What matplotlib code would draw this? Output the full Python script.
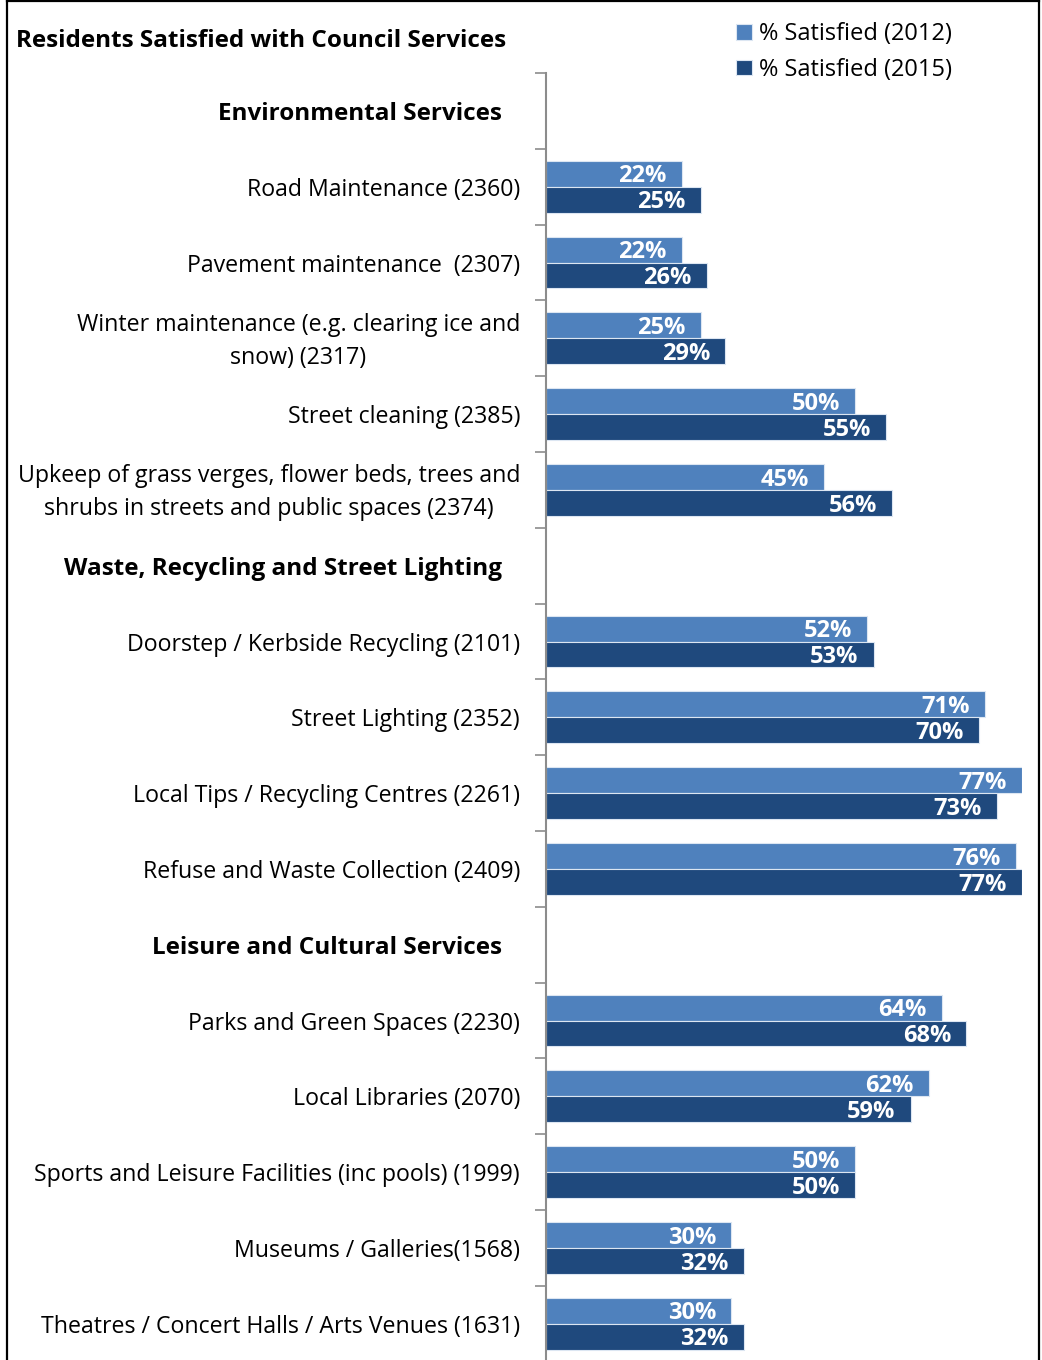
import matplotlib.pyplot as plt
from matplotlib.lines import Line2D
import numpy as np

plt.rcParams['font.family'] = ['Open Sans', 'DejaVu Sans']

groups = ['Environmental Services',
          'Waste, Recycling and Street Lighting',
          'Leisure and Cultural Services']
group_sizes = [5, 4, 5]
categories = [
    'Road Maintenance (2360)',
    'Pavement maintenance  (2307)',
    'Winter maintenance (e.g. clearing ice and\nsnow) (2317)',
    'Street cleaning (2385)',
    'Upkeep of grass verges, flower beds, trees and\nshrubs in streets and public spaces (2374)',
    'Doorstep / Kerbside Recycling (2101)',
    'Street Lighting (2352)',
    'Local Tips / Recycling Centres (2261)',
    'Refuse and Waste Collection (2409)',
    'Parks and Green Spaces (2230)',
    'Local Libraries (2070)',
    'Sports and Leisure Facilities (inc pools) (1999)',
    'Museums / Galleries(1568)',
    'Theatres / Concert Halls / Arts Venues (1631)',
]
sat_2012 = [22, 22, 25, 50, 45, 52, 71, 77, 76, 64, 62, 50, 30, 30]
sat_2015 = [25, 26, 29, 55, 56, 53, 70, 73, 77, 68, 59, 50, 32, 32]

c12 = '#4f81bd'
c15 = '#1f497d'

W, H = 1042, 1360
fig = plt.figure(figsize=(W / 100, H / 100), dpi=100)
ax_top, ax_bot = 73, 1361.6
ax_l, ax_r = 546, 1022
ax = fig.add_axes([ax_l / W, 1 - ax_bot / H, (ax_r - ax_l) / W, (ax_bot - ax_top) / H])

# row layout: a header row before each group of categories
cat_rows, head_rows = [], []
r = 0
for n in group_sizes:
    head_rows.append(r)
    r += 1
    cat_rows.extend(range(r, r + n))
    r += n
n_rows = r
cy = np.array(cat_rows) + 0.5
bh = 0.343
dy = 0.04  # nudges text down a little so it sits centred on the rows

b1 = ax.barh(cy - bh / 2, sat_2012, height=bh, color=c12, edgecolor='#dce6f2', linewidth=0.8,
             label='% Satisfied (2012)')
b2 = ax.barh(cy + bh / 2, sat_2015, height=bh, color=c15, edgecolor='#dce6f2', linewidth=0.8,
             label='% Satisfied (2015)')

for bars in (b1, b2):
    for rect in bars:
        v = rect.get_width()
        ax.annotate(f'{v:.0f}%', (v, rect.get_y() + rect.get_height() / 2),
                    xytext=(-11, -2), textcoords='offset points', ha='right', va='center',
                    color='white', fontweight='bold', fontsize=17)

ax.set_xlim(0, 77)
ax.set_ylim(n_rows, 0)
ax.set_xticks([])
ax.set_yticks(np.arange(n_rows + 1))
ax.set_yticklabels([])
ax.tick_params(axis='y', length=8, width=1.2, color='#8c8c8c')
for s in ('top', 'right', 'bottom'):
    ax.spines[s].set_visible(False)
ax.spines['left'].set_color('#8c8c8c')
ax.spines['left'].set_linewidth(1.5)

ytr = ax.get_yaxis_transform()
for y, lab in zip(cy, categories):
    ax.text(-26 / (ax_r - ax_l), y + dy, lab, transform=ytr, ha='right', va='center',
            multialignment='center', fontsize=16.7, linespacing=1.5)
for y, lab in zip(head_rows, groups):
    ax.text(-44 / (ax_r - ax_l), y + 0.5 + dy, lab, transform=ytr, ha='right', va='center',
            fontsize=17.5, fontweight='bold')

fig.text(16 / W, 1 - 41 / H, 'Residents Satisfied with Council Services', ha='left', va='center',
         fontsize=17.5, fontweight='bold')

fig.legend(handles=[b1, b2], loc='upper left', bbox_to_anchor=(727 / W, 1 - 13 / H),
           frameon=False, fontsize=17, handlelength=0.65, handleheight=0.65,
           handletextpad=0.3, labelspacing=0.48, borderaxespad=0)

# outer frame
for xs, ys in [((7, 7), (1, H)), ((7, 1039), (1, 1)), ((1039, 1039), (1, H))]:
    fig.add_artist(Line2D([x / W for x in xs], [1 - y / H for y in ys], color='black', lw=1.6,
                          transform=fig.transFigure))

fig.savefig('out.png', dpi=100)
